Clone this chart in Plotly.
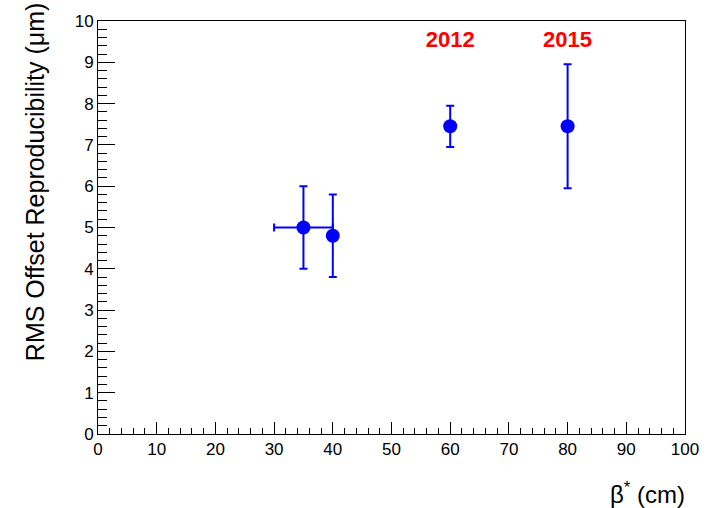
import plotly.graph_objects as go

beta = [35, 40, 60, 80]
rms = [5.0, 4.8, 7.45, 7.45]
rms_err = [1.0, 1.0, 0.5, 1.5]
beta_err = [5, 0, 0, 0]
labels = ["2012", "2015"]
label_x = [60, 80]
label_y = [9.5, 9.5]

FONT = "Liberation Sans, Arial, Helvetica, sans-serif"

fig = go.Figure()
fig.add_trace(go.Scatter(
    x=beta, y=rms, mode="markers",
    marker=dict(color="#0000ff", size=14, symbol="circle"),
    error_y=dict(type="data", array=rms_err, color="#0000ff", thickness=2, width=4),
    error_x=dict(type="data", array=beta_err, color="#0000ff", thickness=2, width=4),
    showlegend=False,
))
fig.add_trace(go.Scatter(
    x=label_x, y=label_y, mode="text", text=labels,
    textfont=dict(family=FONT, size=22, color="#ff0000", weight="bold"),
    showlegend=False,
))

axis_common = dict(
    showline=True, linecolor="black", linewidth=1, mirror=True,
    showgrid=False, zeroline=False,
    ticks="inside", tickcolor="black", tickwidth=1,
    tickfont=dict(family=FONT, size=17, color="black"),
)
fig.update_xaxes(range=[0, 100], tickmode="linear", tick0=0, dtick=10, ticklen=12,
                 minor=dict(ticks="inside", dtick=2, ticklen=6, tickcolor="black", tickwidth=1),
                 **axis_common)
fig.update_yaxes(range=[0, 10], tickmode="linear", tick0=0, dtick=1, ticklen=17,
                 minor=dict(ticks="inside", dtick=0.2, ticklen=9, tickcolor="black", tickwidth=1),
                 **axis_common)

fig.add_annotation(text="β<sup>*</sup> (cm)", xref="paper", yref="paper",
                   x=1.0034, y=-0.144, xanchor="right", yanchor="middle", showarrow=False,
                   font=dict(family=FONT, size=24, color="black"))
fig.add_annotation(text="RMS Offset Reproducibility (μm)", xref="paper", yref="paper",
                   x=-0.107, y=0.172, xanchor="center", yanchor="bottom", textangle=-90,
                   showarrow=False, font=dict(family=FONT, size=25, color="black"))

fig.update_layout(
    width=711, height=508,
    margin=dict(l=98, r=25, t=17, b=74),
    paper_bgcolor="white", plot_bgcolor="white",
)
fig.write_html("out.html", config={"displayModeBar": False},
               post_script="document.body.style.margin='0';document.body.style.overflow='hidden';")
